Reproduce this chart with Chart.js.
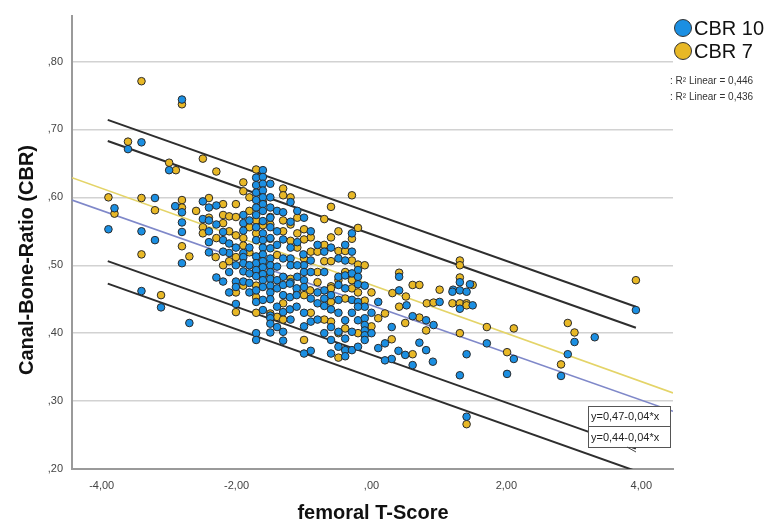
<!DOCTYPE html>
<html>
<head>
<meta charset="utf-8">
<script src="https://cdn.jsdelivr.net/npm/chart.js@4.4.1/dist/chart.umd.min.js"></script>
<style>
  html, body { margin: 0; padding: 0; background: #ffffff; }
  #wrap { width: 771px; height: 526px; }
</style>
</head>
<body>
<div id="wrap"><canvas id="c" width="771" height="526"></canvas></div>
<script>
// ---------- DATA ----------
const xTicks = [-4, -2, 0, 2, 4];
const yTicks = [0.2, 0.3, 0.4, 0.5, 0.6, 0.7, 0.8];
const seriesNames = ['CBR 10', 'CBR 7'];
const r2Labels = [': R\u00B2 Linear = 0,446', ': R\u00B2 Linear = 0,436'];
const equationLabels = ['y=0,47-0,04*x', 'y=0,44-0,04*x'];
const xTitle = 'femoral T-Score';
const yTitle = 'Canal-Bone-Ratio (CBR)';

// CBR 10 observations [T-score, CBR]
const cbr10 = [
[-2.81,0.744],[-3.41,0.681],[-3.61,0.671],[-3.00,0.640],
[-1.71,0.629],[-1.71,0.618],[-1.71,0.607],[-1.71,0.596],[-1.71,0.585],
[-3.21,0.599],[-3.81,0.584],[-2.91,0.587],[-2.81,0.578],[-2.50,0.594],[-2.41,0.585],[-2.30,0.588],
[-3.90,0.553],[-3.41,0.550],[-3.21,0.537],[-2.81,0.563],[-2.81,0.549],[-2.41,0.519],[-2.50,0.568],[-2.41,0.566],[-2.41,0.534],
[-1.90,0.574],[-1.90,0.562],[-1.90,0.551],[-2.20,0.549],[-2.20,0.537],[-2.11,0.532],[-2.01,0.526],[-1.81,0.566],[-1.71,0.574],
[-1.71,0.556],[-1.71,0.537],[-1.61,0.547],[-1.61,0.537],[-1.61,0.526],[-1.50,0.556],[-1.81,0.526],[-1.90,0.518],[-2.11,0.518],
[-2.81,0.503],[-1.90,0.512],[-1.90,0.503],[-1.90,0.491],[-2.30,0.482],[-2.20,0.476],[-2.01,0.476],[-1.90,0.476],[-1.81,0.474],
[-2.11,0.460],[-2.01,0.468],[-1.81,0.460],[-1.71,0.463],[-1.71,0.446],[-1.61,0.449],[-1.61,0.434],[-2.01,0.443],[-1.50,0.426],
[-3.41,0.462],[-3.12,0.438],[-2.70,0.415],[-1.71,0.400],[-1.71,0.390],[-1.50,0.401],
[-1.71,0.513],[-1.71,0.503],[-1.71,0.493],[-1.71,0.484],[-1.61,0.516],[-1.61,0.506],[-1.61,0.497],[-1.61,0.487],[-1.61,0.478],
[-1.61,0.468],[-1.50,0.510],[-1.50,0.500],[-1.50,0.490],[-1.50,0.480],[-1.50,0.470],[-1.50,0.460],[-1.50,0.450],
[-1.61,0.640],[-1.61,0.630],[-1.61,0.620],[-1.61,0.610],[-1.61,0.600],[-1.61,0.590],[-1.61,0.580],[-1.61,0.565],
[-1.50,0.620],[-1.50,0.600],[-1.50,0.585],[-1.50,0.570],[-1.50,0.540],[-1.50,0.525],[-1.40,0.580],[-1.40,0.550],[-1.40,0.530],
[-1.20,0.593],[-1.31,0.578],[-1.20,0.564],[-1.31,0.538],[-1.10,0.534],[-1.20,0.526],[-0.29,0.547],[-0.60,0.526],[-0.70,0.520],
[-0.49,0.510],[-0.39,0.507],[-0.20,0.493],[-1.01,0.516],[-0.90,0.507],[-1.00,0.500],[-1.00,0.490],[-1.10,0.483],[-1.00,0.478],
[-1.20,0.510],[-1.31,0.510],[-1.40,0.498],[-0.49,0.483],[-0.39,0.485],[-0.29,0.488],[-0.20,0.483],[-0.20,0.472],[-1.31,0.483],
[-1.40,0.478],[-1.20,0.475],[0.41,0.483],[1.31,0.475],[1.21,0.464],[1.46,0.472],
[-1.40,0.466],[-1.31,0.471],[-1.21,0.473],[-1.11,0.466],[-1.00,0.468],[-0.70,0.463],[-0.49,0.471],[-0.39,0.466],[-1.31,0.456],
[-1.21,0.453],[-1.11,0.456],[-0.90,0.451],[-0.80,0.444],[-0.70,0.451],[-0.60,0.456],[-0.49,0.449],[-0.29,0.449],[-0.20,0.446],
[-0.10,0.439],[-0.20,0.439],[-0.60,0.435],[-1.40,0.439],[-1.31,0.431],[-1.21,0.435],[-1.11,0.439],[-1.50,0.422],[-0.90,0.417],
[-0.60,0.409],[-0.39,0.419],[-0.20,0.419],[-0.10,0.422],[-0.10,0.412],[-0.10,0.404],[-0.10,0.397],[-0.10,0.390],[-0.49,0.402],
[-0.29,0.402],[-0.39,0.392],[-0.60,0.390],[-1.40,0.409],[-1.31,0.402],[-1.50,0.414],[-1.31,0.389],[-0.90,0.374],[-0.39,0.375],
[-0.29,0.375],[-0.39,0.366],
[0.10,0.446],[0.30,0.409],[0.20,0.385],[0.10,0.378],[0.30,0.362],[0.40,0.374],[0.50,0.368],[0.61,0.353],[0.61,0.425],[0.81,0.419],
[0.92,0.412],[0.71,0.386],[0.81,0.375],[0.91,0.358],[0.41,0.463],[0.52,0.441],[1.01,0.446],[1.20,0.461],[1.31,0.463],[1.31,0.436],
[1.41,0.461],[1.31,0.338],[1.41,0.369],[1.41,0.277],
[3.92,0.434],[1.50,0.441],[1.71,0.385],[2.11,0.362],[2.01,0.340],[3.01,0.387],[3.31,0.394],[2.91,0.369],[2.81,0.337],
[-2.41,0.550],[-2.30,0.560],[-2.20,0.520],[-2.11,0.490],[-1.81,0.500],[-1.81,0.488],[-2.01,0.500],[-1.20,0.500],[-1.10,0.500],
[-0.90,0.490],[-0.80,0.460],[-0.70,0.440],[-0.80,0.420],[-0.70,0.400],[-1.00,0.430],[-1.00,0.410],[-0.49,0.430],[-0.29,0.430],
[-0.49,0.380],[-0.20,0.380],[-1.20,0.420],[-1.00,0.370],[-0.60,0.370],[-0.80,0.530],[-0.90,0.550],[-0.39,0.530],[-0.29,0.520],
[-0.10,0.470],[0.00,0.430],[0.00,0.400],[0.20,0.360],[-1.10,0.580],[-1.00,0.570],[-0.70,0.490]
];

// CBR 7 observations [T-score, CBR]
const cbr7 = [
[-3.41,0.771],[-2.81,0.737],[-3.61,0.682],[-3.00,0.651],[-2.90,0.640],[-2.50,0.657],[-2.30,0.638],[-1.71,0.641],[-1.90,0.622],
[-1.90,0.609],[-1.61,0.593],[-3.90,0.600],[-3.41,0.599],[-3.21,0.581],[-3.81,0.576],[-2.81,0.596],[-2.81,0.585],[-2.41,0.599],
[-2.81,0.528],[-3.41,0.516],[-2.70,0.513],[-2.50,0.556],[-2.50,0.547],[-2.30,0.540],[-2.20,0.574],[-2.11,0.572],[-2.01,0.571],
[-2.20,0.562],[-2.01,0.544],[-1.90,0.540],[-1.90,0.529],[-1.81,0.556],[-1.71,0.566],[-1.71,0.547],[-1.61,0.559],[-1.50,0.571],
[-1.81,0.519],[-2.01,0.512],[-2.31,0.512],
[-2.11,0.506],[-2.01,0.460],[-1.71,0.453],[-2.01,0.431],[-3.12,0.456],[-1.61,0.500],[-1.50,0.485],[-1.71,0.470],
[-1.31,0.613],[-1.31,0.603],[-1.20,0.600],[-0.29,0.603],[-0.60,0.586],[-0.70,0.568],[-1.31,0.566],[-1.50,0.560],[-0.20,0.555],
[-0.29,0.539],[-0.49,0.550],[-0.60,0.541],[-1.00,0.553],[-1.10,0.547],[-0.90,0.541],[-1.00,0.538],[-1.31,0.550],[-1.20,0.536],
[-1.10,0.526],[-1.50,0.539],[-0.49,0.521],[-0.39,0.521],[-0.29,0.507],[-0.70,0.506],[-0.60,0.506],[-0.20,0.501],[-1.00,0.510],
[-0.80,0.490],[-0.80,0.475],[-1.40,0.515],[-0.49,0.478],[-0.29,0.478],[0.41,0.489],[0.61,0.471],[0.71,0.471],[1.01,0.464],
[1.31,0.507],[1.31,0.500],[1.31,0.482],[-0.60,0.469],
[-0.91,0.463],[-0.60,0.466],[-0.29,0.466],[-1.31,0.444],[-1.00,0.456],[-0.60,0.446],[-0.39,0.451],[-0.10,0.448],[-1.50,0.429],
[-1.40,0.424],[-0.60,0.417],[-0.39,0.407],[-0.49,0.364],[0.10,0.422],[0.20,0.429],[0.30,0.391],[0.61,0.369],[0.50,0.415],
[0.71,0.423],[0.81,0.404],[0.31,0.459],[0.41,0.439],[0.51,0.454],[0.82,0.444],[0.92,0.445],[1.20,0.444],[1.31,0.444],[1.41,0.444],
[1.31,0.400],[1.41,0.266],
[3.92,0.478],[1.50,0.471],[1.41,0.441],[1.71,0.409],[2.11,0.407],[2.01,0.372],[2.91,0.415],[3.01,0.401],[2.81,0.354],
[-2.60,0.580],[-2.41,0.570],[-2.20,0.590],[-2.01,0.590],[-2.11,0.550],[-1.81,0.580],[-1.81,0.600],[-1.20,0.560],[-1.10,0.570],
[-0.90,0.520],[-0.80,0.520],[-0.70,0.530],[-0.39,0.490],[-0.20,0.460],[-0.10,0.500],[0.00,0.460],[-1.20,0.480],[-1.10,0.460],
[-0.90,0.430],[-0.70,0.420],[-1.00,0.390],[-0.20,0.400],[0.00,0.410],[-1.71,0.430],[-1.31,0.420],[-0.49,0.400],[-2.20,0.500],
[-1.90,0.470]
];

// Fit lines (end points) and prediction interval lines (end points)
const fitX = [-4.44, 4.47];
const cbr7Fit = [0.629, 0.312];
const cbr10Fit = [0.596, 0.285];
const intervalX = [-3.91, 3.92];
const cbr7Upper = [0.714, 0.439];
const cbr7Lower = [0.506, 0.230];
const cbr10Upper = [0.683, 0.408];
const cbr10Lower = [0.473, 0.197];

// ---------- STYLE ----------
const BLUE = '#1b8fe2';
const GOLD = '#e8b826';
const FONT = '"Liberation Sans", Arial, sans-serif';

function fmt(v) {
  let s = Math.abs(v).toFixed(2).replace('.', ',');
  if (s.startsWith('0,')) s = s.slice(1);
  return (v < 0 ? '-' : '') + s;
}
const pts = arr => arr.map(p => ({ x: p[0], y: p[1] }));
const seg = (xs, ys) => xs.map((x, i) => ({ x: x, y: ys[i] }));

function lineDs(data, color, width, order) {
  return { type: 'line', data: data, borderColor: color, borderWidth: width,
           pointRadius: 0, fill: false, showLine: true, order: order, tension: 0 };
}

const decor = {
  id: 'decor',
  afterDraw(chart) {
    const ctx = chart.ctx;
    ctx.save();
    // axis titles
    ctx.fillStyle = '#111';
    ctx.font = 'bold 20px ' + FONT;
    ctx.textAlign = 'center';
    ctx.textBaseline = 'middle';
    ctx.fillText(xTitle, 373, 513);
    ctx.save();
    ctx.translate(27, 260);
    ctx.rotate(-Math.PI / 2);
    ctx.fillText(yTitle, 0, 0);
    ctx.restore();

    // legend
    const colors = [BLUE, GOLD];
    const ly = [28, 51];
    for (let i = 0; i < 2; i++) {
      ctx.beginPath();
      ctx.arc(683, ly[i], 8.5, 0, Math.PI * 2);
      ctx.fillStyle = colors[i];
      ctx.fill();
      ctx.lineWidth = 1;
      ctx.strokeStyle = '#333';
      ctx.stroke();
      ctx.fillStyle = '#111';
      ctx.font = '20px ' + FONT;
      ctx.textAlign = 'left';
      ctx.textBaseline = 'middle';
      ctx.fillText(seriesNames[i], 694, ly[i] + 1);
    }
    ctx.font = '10px ' + FONT;
    ctx.fillStyle = '#333';
    ctx.fillText(r2Labels[0], 670, 81);
    ctx.fillText(r2Labels[1], 670, 97);

    // equation boxes
    const boxes = [[588, 406, 82, 20], [588, 426, 82, 21]];
    ctx.font = '11px ' + FONT;
    for (let i = 0; i < 2; i++) {
      const b = boxes[i];
      ctx.fillStyle = '#fff';
      ctx.fillRect(b[0], b[1], b[2], b[3]);
      ctx.strokeStyle = '#555';
      ctx.lineWidth = 1;
      ctx.strokeRect(b[0] + 0.5, b[1] + 0.5, b[2], b[3]);
      ctx.fillStyle = '#222';
      ctx.textAlign = 'left';
      ctx.textBaseline = 'middle';
      ctx.fillText(equationLabels[i], b[0] + 3, b[1] + b[3] / 2 + 1);
    }
    ctx.beginPath();
    ctx.moveTo(627, 447);
    ctx.lineTo(636, 452);
    ctx.strokeStyle = '#444';
    ctx.stroke();
    ctx.restore();
  }
};

new Chart(document.getElementById('c'), {
  type: 'scatter',
  data: {
    datasets: [
      { label: seriesNames[0], data: pts(cbr10), backgroundColor: BLUE, borderColor: '#2a2a2a',
        borderWidth: 1, pointRadius: 3.8, order: 1 },
      { label: seriesNames[1], data: pts(cbr7), backgroundColor: GOLD, borderColor: '#2a2a2a',
        borderWidth: 1, pointRadius: 3.8, order: 2 },
      lineDs(seg(fitX, cbr7Fit), '#e4d468', 1.6, 3),
      lineDs(seg(fitX, cbr10Fit), '#7f88c9', 1.6, 3),
      lineDs(seg(intervalX, cbr7Upper), '#2e2e2e', 2, 4),
      lineDs(seg(intervalX, cbr7Lower), '#2e2e2e', 2, 4),
      lineDs(seg(intervalX, cbr10Upper), '#2e2e2e', 2, 4),
      lineDs(seg(intervalX, cbr10Lower), '#2e2e2e', 2, 4)
    ]
  },
  options: {
    responsive: false,
    animation: false,
    devicePixelRatio: 1,
    layout: { padding: { left: 0, right: 98, top: 15, bottom: 0 } },
    plugins: { legend: { display: false }, tooltip: { enabled: false } },
    scales: {
      x: {
        type: 'linear', min: -4.44, max: 4.47,
        afterBuildTicks: s => { s.ticks = xTicks.map(v => ({ value: v })); },
        afterFit: s => { s.height = 57; },
        grid: { display: false, drawTicks: false },
        border: { display: true, color: '#9a9a9a', width: 2 },
        ticks: { callback: v => fmt(v), color: '#444', font: { family: FONT, size: 11 }, padding: 10, maxRotation: 0 }
      },
      y: {
        type: 'linear', min: 0.2, max: 0.8676,
        afterBuildTicks: s => { s.ticks = yTicks.map(v => ({ value: v })); },
        afterFit: s => { s.width = 72; },
        grid: { color: '#d2d2d2', lineWidth: 1.5, drawTicks: false },
        border: { display: true, color: '#9a9a9a', width: 2 },
        ticks: { callback: v => fmt(v), color: '#444', font: { family: FONT, size: 11 }, padding: 9 }
      }
    }
  },
  plugins: [decor]
});
</script>
</body>
</html>
